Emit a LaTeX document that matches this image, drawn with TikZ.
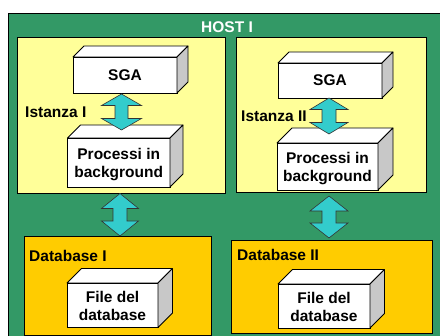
\documentclass[tikz,border=0pt]{standalone}
\usepackage{fontspec}
\setmainfont{Liberation Sans}
\definecolor{hostgreen}{HTML}{339966}
\definecolor{instyellow}{HTML}{FFFF99}
\definecolor{dbyellow}{HTML}{FFCC00}
\definecolor{arrowcyan}{HTML}{33CCCC}
\definecolor{sidegray}{HTML}{C8C8C8}
\tikzset{
  frontface/.style={draw=black, line width=0.8pt, fill=white, rectangle, inner sep=0pt, outer sep=0pt},
  facetext/.style={font=\fontsize{15.5}{18}\selectfont\bfseries, align=center, text=black, inner sep=0pt},
  topface/.style={draw=black, line width=0.8pt, fill=white, line join=round},
  sideface/.style={draw=black, line width=0.8pt, fill=sidegray, line join=round},
  zonebox/.style={draw=black, line width=0.8pt, rectangle, inner sep=0pt, outer sep=0pt},
  lbl/.style={font=\fontsize{15.5}{18}\selectfont\bfseries, inner sep=0pt, anchor=west, text=black},
  fat/.style={draw=black!80, line width=0.6pt, fill=arrowcyan, line join=miter},
}
% name, x1, y1, x2, y2, depth, text, text shift (down, pt)
\newcommand\cuboid[8]{%
  \node[frontface, anchor=north west, minimum width={(#4-#2)*1pt}, minimum height={(#5-#3)*1pt}] (#1) at (#2,#3) {};
  \node[facetext] (#1-txt) at ([yshift=-#8pt]#1.center) {#7};
  \draw[topface] (#1.north west) -- ++(#6,-#6) -- ([shift={(#6,-#6)}]#1.north east) -- (#1.north east) -- cycle;
  \draw[sideface] (#1.north east) -- ++(#6,-#6) -- ([shift={(#6,-#6)}]#1.south east) -- (#1.south east) -- cycle;
}
% top coordinate, bottom coordinate, head length, half head width, half shaft width
\newcommand\fatarrow[5]{%
  \draw[fat] (#1) -- ([shift={(#4,#3)}]#1) -- ([shift={(#5,#3)}]#1) -- ([shift={(#5,-#3)}]#2)
    -- ([shift={(#4,-#3)}]#2) -- (#2) -- ([shift={(-#4,-#3)}]#2) -- ([shift={(-#5,-#3)}]#2)
    -- ([shift={(-#5,#3)}]#1) -- ([shift={(-#4,#3)}]#1) -- cycle;
}
\begin{document}
\begin{tikzpicture}[x=1pt, y=-1pt]
  \clip (0,0) rectangle (440,336);
  \fill[white] (0,0) rectangle (440,336);
  % host
  \node[zonebox, fill=hostgreen, anchor=north west, minimum width=440pt, minimum height=340pt] (host) at (8,13) {};
  \node[font=\fontsize{15.5}{18}\selectfont\bfseries, text=white, inner sep=0pt] (hostlbl) at (227,27) {HOST I};
  % instances
  \node[zonebox, fill=instyellow, anchor=north west, minimum width=208pt, minimum height=156pt] (inst1) at (17,37) {};
  \node[zonebox, fill=instyellow, anchor=north west, minimum width=190pt, minimum height=155pt] (inst2) at (236,37) {};
  % databases
  \node[zonebox, fill=dbyellow, anchor=north west, minimum width=187pt, minimum height=99pt] (db1) at (24,236) {};
  \node[zonebox, fill=dbyellow, anchor=north west, minimum width=201pt, minimum height=93pt] (db2) at (231,240) {};
  % labels
  \node[lbl] (ist1) at (25,112) {Istanza I};
  \node[lbl] (ist2) at (241,116) {Istanza II};
  \node[lbl] (dbl1) at (29,256) {Database I};
  \node[lbl] (dbl2) at (237,255) {Database II};
  % cuboids
  \cuboid{sga1}{73}{57}{177}{93}{11}{SGA}{0}
  \cuboid{sga2}{278}{63}{382}{98}{11}{SGA}{0}
  \cuboid{proc1}{67.5}{138}{170}{187}{13}{Processi in\\background}{2.5}
  \cuboid{proc2}{277}{143}{378}{190}{15}{Processi in\\background}{2.5}
  \cuboid{file1}{67}{283}{158}{327.5}{14.5}{File del\\database}{1}
  \cuboid{file2}{278}{284}{370}{328}{14.5}{File del\\database}{1}
  % arrow end points
  \coordinate (a1t) at (121.5,94);  \coordinate (a1b) at (121.5,130);
  \coordinate (a2t) at (329,98);    \coordinate (a2b) at (329,134);
  \coordinate (a3t) at (120,193.5); \coordinate (a3b) at (120,236);
  \coordinate (a4t) at (329,196);   \coordinate (a4b) at (329,238);
  \fatarrow{a1t}{a1b}{11.5}{20}{6.5}
  \fatarrow{a2t}{a2b}{11.5}{19}{7}
  \fatarrow{a3t}{a3b}{15}{18.5}{7}
  \fatarrow{a4t}{a4b}{15}{19}{7}
\end{tikzpicture}
\end{document}
